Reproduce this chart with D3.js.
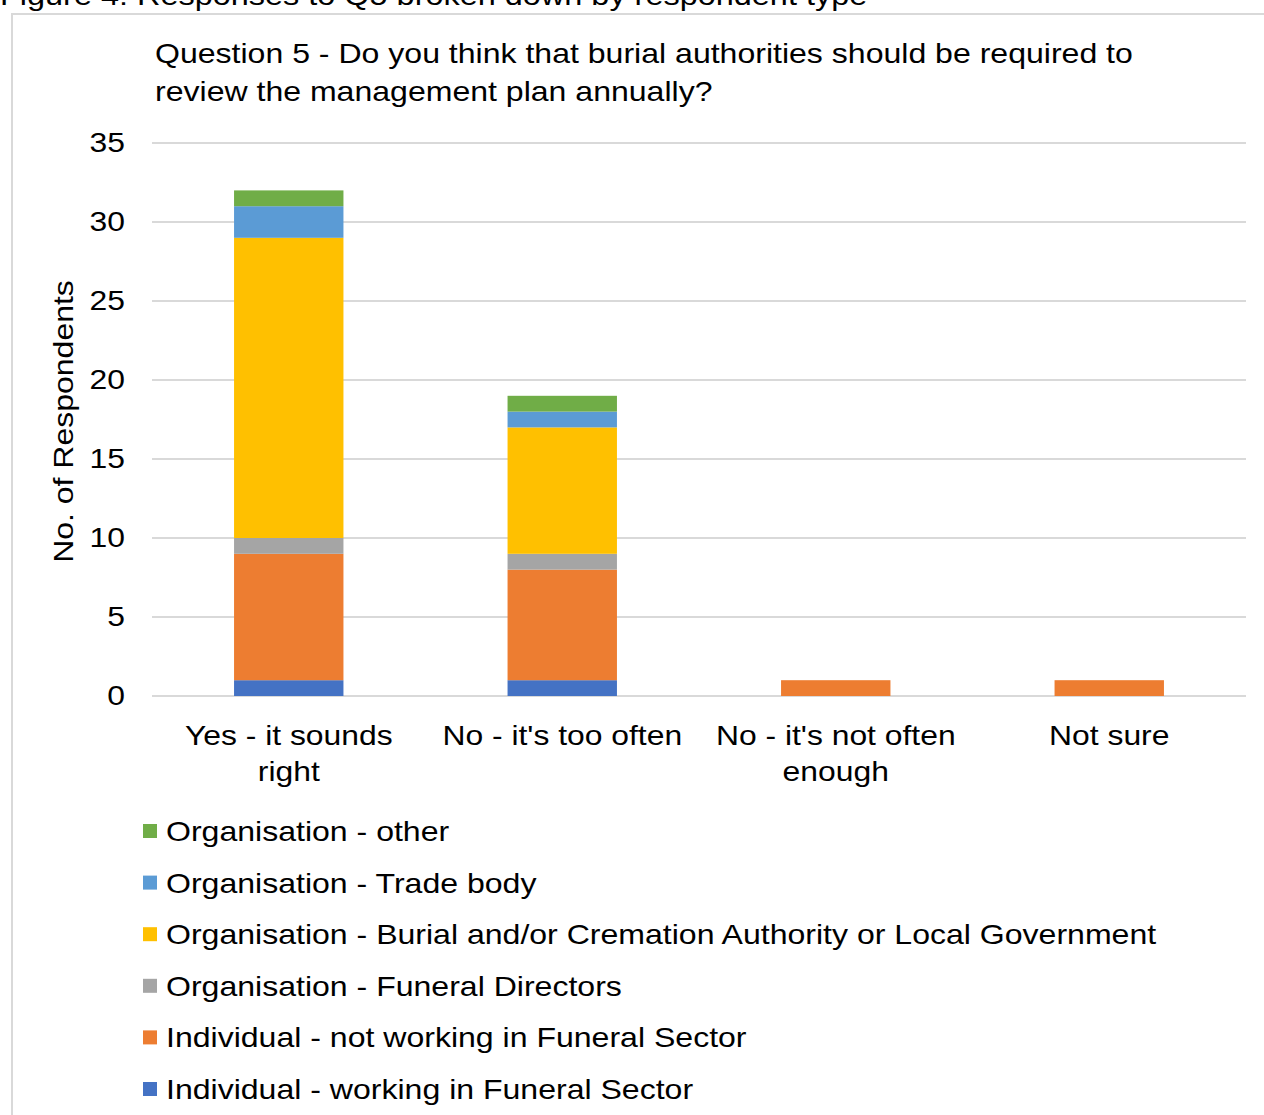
<!DOCTYPE html>
<html>
<head>
<meta charset="utf-8">
<script src="https://cdn.jsdelivr.net/npm/d3@7"></script>
<style>
  html, body { margin: 0; padding: 0; background: #fff; }
  svg { display: block; font-family: "Liberation Sans", Arial, sans-serif; }
</style>
</head>
<body>
<svg id="chart" width="1264" height="1115"></svg>
<script>
// Responses to Q5, stacked by respondent type
const categories = [
  ["Yes - it sounds", "right"],
  ["No - it's too often"],
  ["No - it's not often", "enough"],
  ["Not sure"]
];
const seriesNames = [
  "Individual - working in Funeral Sector",
  "Individual - not working in Funeral Sector",
  "Organisation - Funeral Directors",
  "Organisation - Burial and/or Cremation Authority or Local Government",
  "Organisation - Trade body",
  "Organisation - other"
];
const seriesColors = ["#4472C4", "#ED7D31", "#A5A5A5", "#FFC000", "#5B9BD5", "#70AD47"];

const indivWorking    = [1, 1, 0, 0];
const indivNotWorking = [8, 7, 1, 1];
const orgFuneral      = [1, 1, 0, 0];
const orgBurial       = [19, 8, 0, 0];
const orgTrade        = [2, 1, 0, 0];
const orgOther        = [1, 1, 0, 0];

const yTicks = [0, 5, 10, 15, 20, 25, 30, 35];

const seriesValues = [indivWorking, indivNotWorking, orgFuneral, orgBurial, orgTrade, orgOther];
const rows = categories.map((c, i) => {
  const r = { key: i };
  seriesNames.forEach((s, j) => { r[s] = seriesValues[j][i]; });
  return r;
});

const svg = d3.select("#chart");

// Text drawn with a slightly widened face (horizontal stretch about its anchor)
function wideText(parent, x, y, str, size, sx, anchor = "start", rotate = 0) {
  const g = parent.append("g")
    .attr("transform", `translate(${x},${y}) rotate(${rotate}) scale(${sx},1)`);
  g.append("text")
    .attr("x", 0).attr("y", 0)
    .attr("text-anchor", anchor)
    .attr("font-size", size)
    .attr("fill", "#000")
    .text(str);
  return g;
}

// caption above the framed chart
wideText(svg, 0, 5, "Figure 4: Responses to Q5 broken down by respondent type", 27.5, 1.18);

// chart frame
svg.append("rect")
  .attr("x", 12).attr("y", 14).attr("width", 1270).attr("height", 1120)
  .attr("fill", "none").attr("stroke", "#d9d9d9").attr("stroke-width", 2);

const plot = { left: 152, right: 1246, top: 143, bottom: 696 };

const x = d3.scaleBand()
  .domain(d3.range(categories.length))
  .range([plot.left, plot.right])
  .paddingInner(0.6)
  .paddingOuter(0.3);

const y = d3.scaleLinear().domain([0, 35]).range([plot.bottom, plot.top]);

// gridlines
svg.append("g")
  .selectAll("line")
  .data(yTicks)
  .join("line")
  .attr("x1", plot.left).attr("x2", plot.right)
  .attr("y1", d => y(d)).attr("y2", d => y(d))
  .attr("stroke", "#d9d9d9").attr("stroke-width", 2);

// y axis: scale positions the ticks, labels drawn widened
const yAxis = d3.axisLeft(y).tickValues(yTicks).tickSize(0).tickPadding(0);
const yg = svg.append("g").attr("transform", `translate(125,0)`).call(yAxis);
yg.select(".domain").remove();
yg.selectAll(".tick text")
  .attr("font-size", 27).attr("fill", "#000")
  .attr("font-family", "Liberation Sans, Arial, sans-serif")
  .attr("transform", "scale(1.18,1)");

// stacked bars
const stack = d3.stack().keys(seriesNames)(rows);
svg.append("g")
  .selectAll("g")
  .data(stack)
  .join("g")
  .attr("fill", (d, i) => seriesColors[i])
  .selectAll("rect")
  .data(d => d.filter(s => s[1] - s[0] > 0))
  .join("rect")
  .attr("x", d => x(d.data.key))
  .attr("width", x.bandwidth())
  .attr("y", d => y(d[1]))
  .attr("height", d => y(d[0]) - y(d[1]));

// category labels
const xg = svg.append("g");
categories.forEach((lines, i) => {
  lines.forEach((ln, k) => {
    wideText(xg, x(i) + x.bandwidth() / 2, 745 + k * 36, ln, 27, 1.18, "middle");
  });
});

// y axis title
wideText(svg, 73, (plot.top + plot.bottom) / 2 + 2, "No. of Respondents", 27, 1.185, "middle", -90);

// chart title
wideText(svg, 155, 63, "Question 5 - Do you think that burial authorities should be required to", 27, 1.187);
wideText(svg, 155, 101, "review the management plan annually?", 27, 1.187);

// legend, top entry is the last series
const legendOrder = d3.range(seriesNames.length).reverse();
const lg = svg.append("g");
legendOrder.forEach((si, k) => {
  const cy = 831 + k * 51.6;
  lg.append("rect")
    .attr("x", 143).attr("y", cy - 7).attr("width", 14).attr("height", 14)
    .attr("fill", seriesColors[si]);
  wideText(lg, 166, cy + 10, seriesNames[si], 28, 1.145);
});
</script>
</body>
</html>
